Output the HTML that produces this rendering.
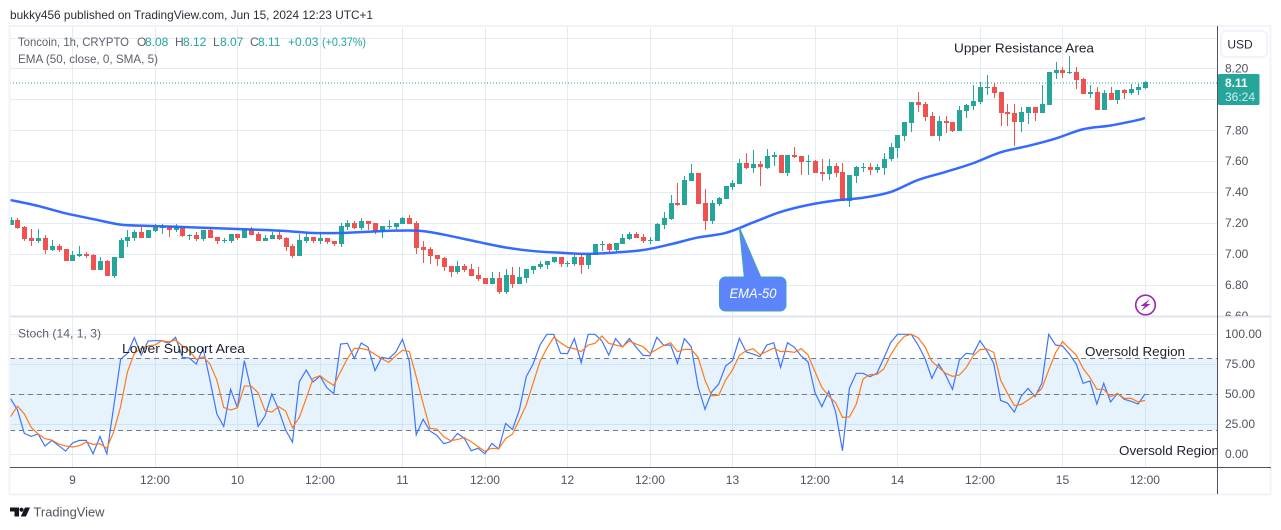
<!DOCTYPE html>
<html lang="en">
<head>
<meta charset="utf-8">
<title>Toncoin 1h chart</title>
<style>
html,body{margin:0;padding:0;background:#fff;width:1281px;height:530px;overflow:hidden}
svg{display:block;font-family:"Liberation Sans",sans-serif}
</style>
</head>
<body>
<svg id="chart" xmlns="http://www.w3.org/2000/svg" width="1281" height="530" viewBox="0 0 1281 530">
  <defs>
    <clipPath id="price-clip"><rect x="10" y="27" width="1207" height="289"/></clipPath>
    <clipPath id="stoch-clip"><rect x="10" y="318" width="1207" height="149"/></clipPath>
    <clipPath id="axis-clip"><rect x="1218" y="27" width="52" height="289"/></clipPath>
    <clipPath id="note-clip"><rect x="10" y="318" width="1207" height="149"/></clipPath>
  </defs>
  <rect x="0" y="0" width="1281" height="530" fill="#ffffff"/>
  <text x="10" y="19" font-size="12" fill="#2a2e39" textLength="363" lengthAdjust="spacingAndGlyphs">bukky456 published on TradingView.com, Jun 15, 2024 12:23 UTC+1</text>
  <g id="grid"></g>
  <rect x="10" y="358" width="1207" height="72.5" fill="#e6f3fd"/>
  <g id="grid-over"></g>
  <g id="stoch-levels"></g>
  <line x1="10" x2="1217" y1="83" y2="83" stroke="#26a69a" stroke-width="1" stroke-dasharray="1 2"/>
  <g id="candles" clip-path="url(#price-clip)"></g>
  <path id="ema-line" fill="none" stroke="#2962ff" stroke-width="2.5" stroke-linejoin="round" opacity="0.95" clip-path="url(#price-clip)"/>
  <path id="stoch-k" fill="none" stroke="#3f75fb" stroke-width="1.2" clip-path="url(#stoch-clip)"/>
  <path id="stoch-d" fill="none" stroke="#ff7a1a" stroke-width="1.2" clip-path="url(#stoch-clip)"/>

  <g font-size="12">
    <text x="18" y="46" fill="#5d606b" textLength="111" lengthAdjust="spacingAndGlyphs">Toncoin, 1h, CRYPTO</text>
    <text x="137" y="46" fill="#5d606b">O</text>
    <text x="145" y="46" fill="#26a69a">8.08</text>
    <text x="175" y="46" fill="#5d606b">H</text>
    <text x="183" y="46" fill="#26a69a">8.12</text>
    <text x="213" y="46" fill="#5d606b">L</text>
    <text x="220" y="46" fill="#26a69a">8.07</text>
    <text x="250" y="46" fill="#5d606b">C</text>
    <text x="258" y="46" fill="#26a69a">8.11</text>
    <text x="288" y="46" fill="#26a69a">+0.03</text>
    <text x="322" y="46" fill="#26a69a" textLength="44" lengthAdjust="spacingAndGlyphs">(+0.37%)</text>
    <text x="18" y="63" fill="#5d606b" textLength="140" lengthAdjust="spacingAndGlyphs">EMA (50, close, 0, SMA, 5)</text>
    <text x="18" y="337.5" fill="#5d606b" textLength="83" lengthAdjust="spacingAndGlyphs">Stoch (14, 1, 3)</text>
  </g>

  <g font-size="13" fill="#1e222d">
    <text x="954" y="52.5" textLength="140" lengthAdjust="spacingAndGlyphs">Upper Resistance Area</text>
    <text x="122" y="353" textLength="123" lengthAdjust="spacingAndGlyphs">Lower Support Area</text>
    <text x="1085" y="356" textLength="100" lengthAdjust="spacingAndGlyphs">Oversold Region</text>
    <text x="1119" y="455" textLength="100" lengthAdjust="spacingAndGlyphs" clip-path="url(#note-clip)">Oversold Region</text>
  </g>

  <g>
    <path d="M725.5 277H744.3L739.3 227.3L760.7 277H780a6 6 0 0 1 6 6V305a6 6 0 0 1-6 6H725.5a6 6 0 0 1-6-6V283a6 6 0 0 1 6-6Z" fill="#5c84fb" stroke="#3fa3bf" stroke-width="1"/>
    <text x="753" y="298" font-size="14" font-style="italic" fill="#ffffff" text-anchor="middle" textLength="47" lengthAdjust="spacingAndGlyphs">EMA-50</text>
  </g>

  <g>
    <circle cx="1145.5" cy="305" r="9.8" fill="#ffffff" stroke="#9c27b0" stroke-width="1.6"/>
    <polygon points="1150,299 1140.5,306 1144.8,306 1141,311 1150.5,304 1146.2,304" fill="#9c27b0"/>
  </g>

  <rect x="9.5" y="26" width="1261" height="468.5" fill="none" stroke="#f0f3fa" stroke-width="2"/>
  <line x1="10" x2="1271" y1="316.5" y2="316.5" stroke="#e0e3eb" stroke-width="2"/>
  <line x1="10" x2="1271" y1="467.5" y2="467.5" stroke="#50535e" stroke-width="1"/>
  <line x1="1217.5" x2="1217.5" y1="26" y2="494" stroke="#50535e" stroke-width="1"/>

  <g id="price-axis" font-size="12" fill="#50535e" clip-path="url(#axis-clip)"></g>
  <g id="stoch-axis" font-size="12" fill="#50535e"></g>
  <g id="time-axis" font-size="12" fill="#50535e" text-anchor="middle"></g>

  <g>
    <rect x="1221" y="31" width="46" height="26" rx="5" fill="#ffffff" stroke="#f0f3fa" stroke-width="2"/>
    <text x="1240" y="48.5" font-size="12" fill="#2a2e39" text-anchor="middle">USD</text>
  </g>
  <g>
    <rect x="1218" y="74" width="41.5" height="31" rx="1.5" fill="#26a69a"/>
    <text x="1225" y="87" font-size="12" font-weight="bold" fill="#ffffff">8.11</text>
    <text x="1225" y="101" font-size="12" fill="#d4efec">36:24</text>
  </g>

  <g>
    <path d="M10 507.5H19V516.5H14.5V511.5H10Z" fill="#131722"/>
    <circle cx="21.5" cy="509.7" r="2.1" fill="#131722"/>
    <polygon points="25,507.5 30,507.5 26,516.5 20.8,516.5" fill="#131722"/>
    <text x="33.5" y="516.5" font-size="13" fill="#50535e" textLength="71" lengthAdjust="spacingAndGlyphs">TradingView</text>
  </g>
</svg>

<script>
const opens = [7.188,7.220,7.175,7.104,7.084,7.104,7.026,7.052,7.032,6.955,
6.987,7,6.994,6.896,6.955,6.858,6.974,7.084,7.104,7.142,
7.104,7.149,7.168,7.181,7.155,7.181,7.116,7.123,7.097,7.155,
7.110,7.084,7.084,7.129,7.104,7.162,7.129,7.084,7.097,7.123,
7.104,7.052,6.987,7.084,7.110,7.084,7.104,7.084,7.065,7.175,
7.201,7.168,7.214,7.201,7.142,7.175,7.175,7.194,7.233,7.201,
7.045,7.032,6.994,6.974,6.922,6.884,6.922,6.903,6.864,6.845,
6.806,6.845,6.754,6.864,6.806,6.845,6.896,6.916,6.929,6.948,
6.981,6.935,6.935,6.981,6.929,6.994,7.058,7.065,7.026,7.065,
7.097,7.129,7.110,7.084,7.084,7.188,7.226,7.330,7.317,7.472,
7.524,7.330,7.214,7.324,7.356,7.433,7.453,7.589,7.556,7.582,
7.556,7.628,7.641,7.524,7.641,7.634,7.595,7.602,7.531,7.518,
7.569,7.531,7.343,7.505,7.556,7.563,7.543,7.556,7.615,7.686,
7.763,7.848,7.983,7.971,7.893,7.763,7.861,7.854,7.796,7.925,
7.958,7.983,8.074,8.080,8.048,7.919,7.912,7.854,7.912,7.951,
7.912,7.964,8.171,8.190,8.171,8.178,8.132,8.035,8.048,7.932,
8.042,7.996,8.061,8.042,8.061,8.074];
const highs = [7.239,7.233,7.181,7.162,7.162,7.123,7.091,7.065,7.032,7.019,
7.052,7.013,7,6.981,6.961,6.981,7.104,7.155,7.155,7.175,
7.155,7.194,7.194,7.181,7.194,7.181,7.129,7.142,7.155,7.175,
7.110,7.104,7.129,7.129,7.162,7.175,7.142,7.123,7.142,7.155,
7.110,7.065,7.129,7.142,7.110,7.129,7.104,7.084,7.201,7.220,
7.214,7.233,7.214,7.201,7.181,7.220,7.201,7.239,7.252,7.214,
7.084,7.045,6.994,6.981,6.922,6.955,6.935,6.935,6.916,6.845,
6.884,6.884,6.903,6.916,6.916,6.903,6.922,6.955,6.955,6.981,
6.981,6.955,6.994,6.994,7,7.065,7.084,7.071,7.071,7.129,
7.142,7.142,7.129,7.110,7.201,7.272,7.382,7.459,7.505,7.582,
7.524,7.421,7.349,7.369,7.440,7.479,7.615,7.653,7.673,7.602,
7.679,7.660,7.641,7.641,7.692,7.634,7.641,7.608,7.615,7.615,
7.589,7.589,7.511,7.569,7.589,7.589,7.582,7.653,7.718,7.770,
7.854,7.983,8.048,7.983,7.919,7.893,7.893,7.854,7.958,7.971,
8.093,8.113,8.158,8.106,8.048,7.971,7.971,7.951,7.951,7.951,
8.093,8.178,8.242,8.210,8.281,8.210,8.139,8.093,8.080,8.061,
8.080,8.061,8.068,8.100,8.100,8.119];
const lows = [7.188,7.162,7.084,7.052,7.071,7,7.019,7.013,6.955,6.955,
6.981,6.974,6.896,6.896,6.858,6.845,6.974,7.045,7.084,7.104,
7.104,7.142,7.129,7.110,7.142,7.110,7.091,7.084,7.084,7.104,
7.065,7.071,7.071,7.091,7.104,7.123,7.084,7.084,7.097,7.091,
7.019,6.974,6.987,7.071,7.071,7.065,7.065,7.052,7.045,7.155,
7.162,7.155,7.155,7.129,7.104,7.162,7.155,7.194,7.194,7,
6.942,6.935,6.922,6.890,6.851,6.871,6.884,6.858,6.825,6.806,
6.806,6.741,6.741,6.780,6.806,6.812,6.871,6.903,6.903,6.942,
6.916,6.916,6.922,6.871,6.903,6.994,7.019,7.013,7.013,7.065,
7.091,7.104,7.071,7.065,7.084,7.162,7.220,7.311,7.317,7.472,
7.324,7.155,7.194,7.311,7.356,7.414,7.453,7.550,7.524,7.440,
7.550,7.569,7.524,7.505,7.621,7.511,7.511,7.524,7.472,7.479,
7.498,7.343,7.304,7.459,7.531,7.511,7.524,7.511,7.602,7.621,
7.731,7.789,7.919,7.861,7.763,7.731,7.783,7.789,7.796,7.880,
7.932,7.971,8.029,8.009,7.828,7.828,7.699,7.789,7.841,7.861,
7.912,7.964,8.132,8.139,8.165,8.068,8.035,8.009,7.932,7.932,
7.996,7.971,8.003,8.029,8.029,8.068];
const closes = [7.220,7.168,7.097,7.084,7.104,7.026,7.052,7.026,6.955,6.994,
7,6.987,6.896,6.955,6.858,6.981,7.091,7.110,7.142,7.104,
7.155,7.175,7.181,7.155,7.181,7.116,7.123,7.097,7.155,7.104,
7.084,7.091,7.129,7.104,7.162,7.123,7.084,7.104,7.123,7.097,
7.045,6.987,7.091,7.110,7.084,7.104,7.078,7.065,7.181,7.201,
7.168,7.214,7.194,7.142,7.181,7.181,7.201,7.233,7.194,7.039,
7.026,6.987,6.968,6.916,6.884,6.922,6.896,6.858,6.838,6.806,
6.845,6.754,6.864,6.806,6.851,6.903,6.922,6.935,6.955,6.981,
6.935,6.942,6.981,6.929,7,7.065,7.065,7.026,7.071,7.104,
7.129,7.104,7.084,7.091,7.194,7.233,7.330,7.317,7.479,7.524,
7.324,7.214,7.330,7.362,7.440,7.459,7.589,7.556,7.582,7.563,
7.634,7.641,7.524,7.641,7.628,7.595,7.602,7.524,7.518,7.569,
7.524,7.343,7.511,7.563,7.563,7.543,7.563,7.615,7.692,7.770,
7.854,7.983,7.964,7.886,7.763,7.861,7.848,7.796,7.932,7.964,
7.990,8.080,8.080,8.042,7.912,7.906,7.854,7.919,7.951,7.912,
7.971,8.178,8.190,8.171,8.178,8.126,8.035,8.048,7.932,8.042,
7.996,8.061,8.042,8.068,8.080,8.113];
/* EMA sampled every fourth bar, final value on the last bar */
const emaValues = [7.349,7.311,7.263,7.226,7.190,7.182,7.176,7.170,7.163,7.157,
7.149,7.136,7.136,7.144,7.151,7.148,7.116,7.078,7.042,7.019,
7.008,7.001,7.010,7.026,7.063,7.107,7.136,7.204,7.272,7.317,
7.346,7.364,7.401,7.479,7.531,7.587,7.658,7.699,7.747,7.807,
7.831,7.867,7.880];
const stochK = [46.5,37.1,17.7,15.2,17.2,7.2,11.9,7.5,3.0,9.7,
11.9,11.9,0.8,15.2,0.8,39.9,79.2,84.2,97.2,82.8,
94.4,94.7,94.7,92.5,97.5,80.9,80.3,75.3,88.3,62.0,
33.8,23.5,54.3,39.0,78.1,53.7,23.5,32.1,50.4,37.1,
20.5,10.5,60.6,70.3,60.4,65.3,55.7,50.7,91.9,92.5,
80.0,92.8,89.2,69.8,80.9,79.7,85.0,95.8,77.3,16.6,
29.4,19.7,16.1,9.1,10.8,17.7,13.6,3.3,5.3,0.8,
9.4,4.7,26.0,21.0,37.1,64.8,75.3,91.1,100,100,
84.2,83.9,96.4,76.4,100,100,94.7,82.8,96.4,89.4,
96.4,89.2,82.5,82.2,97.5,90.8,91.1,75.9,96.4,89.7,
56.5,37.7,52.3,58.7,73.7,78.1,96.6,85.3,83.6,81.4,
91.1,93.0,72.5,93.0,89.2,82.0,77.0,51.5,39.9,52.6,
35.7,3.3,55.1,67.6,67.6,64.8,67.6,80.0,93.0,100,
100,100,91.1,80.0,63.4,75.3,66.2,54.3,78.6,84.2,
83.6,94.7,86.4,75.9,45.1,42.9,35.4,48.7,55.1,48.2,
59.3,100,91.1,90.3,83.6,75.3,59.3,61.2,42.1,59.3,
43.8,50.9,46.0,44.3,42.1,50.4];
const stochD = [31.6,40.4,33.8,22.7,17.2,13.3,12.2,8.9,7.2,6.4,
7.5,10.5,8.6,9.1,5.3,19.1,39.9,68.9,84.2,88.3,
90.3,91.1,94.7,93.6,95.3,90.3,86.4,79.2,81.4,75.3,
62.0,39.3,37.1,39.0,57.0,57.0,51.5,36.6,35.4,39.9,
36.3,22.4,31.0,46.8,63.4,65.6,61.2,57.6,68.9,80.0,
88.3,88.3,86.9,83.3,79.7,76.7,82.0,86.7,85.8,64.8,
42.6,21.9,21.3,15.0,11.6,12.7,14.1,10.8,6.6,3.0,
5.3,5.0,13.3,17.2,28.8,41.3,59.3,77.3,88.3,97.5,
93.0,89.2,88.1,85.6,91.1,92.5,98.6,92.5,91.1,89.7,
94.4,91.9,89.7,84.2,87.5,90.8,93.0,85.6,87.5,87.5,
80.9,62.0,49.0,49.3,62.0,70.3,82.5,86.4,88.1,83.1,
85.8,88.6,85.6,85.8,85.0,88.1,82.8,68.9,55.9,48.7,
43.2,31.0,31.3,41.8,62.9,66.5,66.7,71.2,82.8,91.9,
98.3,100,97.2,89.7,77.5,72.5,67.6,65.1,66.2,72.3,
82.0,87.2,87.8,85.0,62.0,50.9,40.7,41.8,45.4,49.6,
55.1,70.3,84.7,93.9,88.3,82.8,71.7,64.2,54.3,54.3,
48.2,50.9,46.8,46.8,43.8,45.1];
const priceGridTicks = [8.40,8.20,8.00,7.80,7.60,7.40,7.20,7.00,6.80,6.60];
const priceTickLabels = ["8.40","8.20","8.00","7.80","7.60","7.40","7.20","7.00","6.80","6.60"];
const stochGridTicks = [100,75,50,25,0];
const stochTickLabels = ["100.00","75.00","50.00","25.00","0.00"];
const stochLevelValues = [80,50,20];
const timeTickLabels = ["9","12:00","10","12:00","11","12:00","12","12:00","13","12:00","14","12:00","15","12:00"];

const SVGNS = "http://www.w3.org/2000/svg";
function barX(i){ return 10.6 + 6.875 * i; }
function priceY(p){ return 254 - (p - 7) * 154.6; }
function stochY(v){ return 454.7 - v * 1.204; }
function timeTickBar(i){ return 9 + 12 * i; }
function make(tag, parent){
  const el = document.createElementNS(SVGNS, tag);
  parent.appendChild(el);
  return el;
}
function linePath(values, xFn, yFn){
  return values.map(function(v, i){ return (i ? "L" : "M") + xFn(i).toFixed(2) + " " + yFn(v).toFixed(2); }).join("");
}
function smoothPath(values, xFn, yFn){
  const pts = values.map(function(v, i){ return [xFn(i), yFn(v)]; });
  let d = "M" + pts[0][0].toFixed(2) + " " + pts[0][1].toFixed(2);
  for (let i = 0; i < pts.length - 1; i++) {
    const p0 = pts[Math.max(i - 1, 0)], p1 = pts[i], p2 = pts[i + 1], p3 = pts[Math.min(i + 2, pts.length - 1)];
    d += "C" + (p1[0] + (p2[0] - p0[0]) / 6).toFixed(2) + " " + (p1[1] + (p2[1] - p0[1]) / 6).toFixed(2) +
         " " + (p2[0] - (p3[0] - p1[0]) / 6).toFixed(2) + " " + (p2[1] - (p3[1] - p1[1]) / 6).toFixed(2) +
         " " + p2[0].toFixed(2) + " " + p2[1].toFixed(2);
  }
  return d;
}

const grid = document.getElementById("grid");
const gridOver = document.getElementById("grid-over");
const GRID = "#e4ecf3";

timeTickLabels.forEach(function(label, i){
  const x = Math.round(barX(timeTickBar(i))) + 0.5;
  const v = make("line", grid);
  
  
  v.setAttribute("x1", x); v.setAttribute("x2", x);
  v.setAttribute("y1", 27); v.setAttribute("y2", 467);
  v.setAttribute("stroke", GRID);
  const vo = make("line", gridOver);
  
  
  vo.setAttribute("x1", x); vo.setAttribute("x2", x);
  vo.setAttribute("y1", 358); vo.setAttribute("y2", 430.5);
  vo.setAttribute("stroke", "#d3e4f2");
  const t = make("text", document.getElementById("time-axis"));
  
  
  t.setAttribute("x", barX(timeTickBar(i)));
  t.setAttribute("y", 484);
  t.textContent = label;
});

priceGridTicks.forEach(function(p, i){
  const y = Math.round(priceY(p)) + 0.5;
  const h = make("line", grid);
  
  
  h.setAttribute("x1", 10); h.setAttribute("x2", 1217);
  h.setAttribute("y1", y); h.setAttribute("y2", y);
  h.setAttribute("stroke", GRID);
  const t = make("text", document.getElementById("price-axis"));
  
  
  t.setAttribute("x", 1225);
  t.setAttribute("y", priceY(p) + 4);
  t.textContent = priceTickLabels[i];
});

stochGridTicks.forEach(function(v, i){
  const y = Math.floor(stochY(v)) + 0.5;
  const h = make("line", gridOver);
  
  
  h.setAttribute("x1", 10); h.setAttribute("x2", 1217);
  h.setAttribute("y1", y); h.setAttribute("y2", y);
  h.setAttribute("stroke", (v > 20 && v < 80) ? "#cfe3f3" : GRID);
  const t = make("text", document.getElementById("stoch-axis"));
  
  
  t.setAttribute("x", 1225);
  t.setAttribute("y", stochY(v) + 3.5);
  t.textContent = stochTickLabels[i];
});

stochLevelValues.forEach(function(v){
  const y = Math.floor(stochY(v)) + 0.5;
  const h = make("line", document.getElementById("stoch-levels"));
  
  
  h.setAttribute("x1", 10); h.setAttribute("x2", 1217);
  h.setAttribute("y1", y); h.setAttribute("y2", y);
  h.setAttribute("stroke", "#787b86");
  h.setAttribute("stroke-dasharray", "5 4");
});

const candles = document.getElementById("candles");
opens.forEach(function(o, i){
  const c = closes[i];
  const color = c >= o ? "#26a69a" : "#ef5350";
  const cx = Math.round(barX(i));
  const top = Math.round(priceY(Math.max(o, c)));
  const bottom = Math.round(priceY(Math.min(o, c)));
  const g = make("g", candles);
  
  
  const wick = make("rect", g);
  
  
  wick.setAttribute("x", cx);
  wick.setAttribute("width", 1);
  wick.setAttribute("y", Math.round(priceY(highs[i])));
  wick.setAttribute("height", Math.max(1, Math.round(priceY(lows[i])) - Math.round(priceY(highs[i]))));
  wick.setAttribute("fill", color);
  const body = make("rect", g);
  
  
  body.setAttribute("x", cx - 2);
  body.setAttribute("width", 5);
  body.setAttribute("y", top);
  body.setAttribute("height", Math.max(1, bottom - top));
  body.setAttribute("fill", color);
});

document.getElementById("ema-line").setAttribute("d", smoothPath(emaValues, function(i){ return barX(Math.min(i * 4, 165)); }, priceY));
document.getElementById("stoch-k").setAttribute("d", linePath(stochK, barX, stochY));
document.getElementById("stoch-d").setAttribute("d", linePath(stochD, barX, stochY));
</script>
</body>
</html>
